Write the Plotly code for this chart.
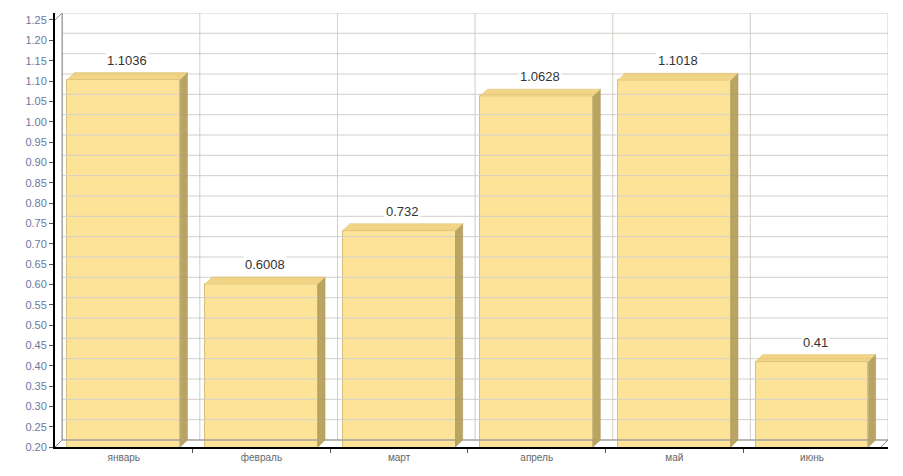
import plotly.graph_objects as go

months = ["январь", "февраль", "март", "апрель", "май", "июнь"]
values = [1.1036, 0.6008, 0.732, 1.0628, 1.1018, 0.41]
value_labels = ["1.1036", "0.6008", "0.732", "1.0628", "1.1018", "0.41"]
y_ticks = [round(0.20 + 0.05 * k, 2) for k in range(22)]

Y0, Y1 = 0.20, 1.25
DX, DY = 0.052, 0.0172  # 3d depth in data units
BAR_W = 0.82

FRONT = "#fde397"
TOP = "#f2d487"
SIDE = "#b9a463"
EDGE = "#d8bf7a"
GRID = "#dcdcdc"


def grid_lines():
    gx, gy = [], []
    for t in y_ticks:
        gx += [-0.5 + DX, 5.5 + DX, None]
        gy += [t + DY, t + DY, None]
    for b in range(7):
        gx += [b - 0.5 + DX, b - 0.5 + DX, None]
        gy += [Y0 + DY, Y1 + DY, None]
    return gx, gy


fig = go.Figure()

gx, gy = grid_lines()
fig.add_trace(go.Scatter(x=gx, y=gy, mode="lines", line=dict(color=GRID, width=1),
                         hoverinfo="skip", showlegend=False))

# left wall and floor edges
wx = [-0.5, -0.5 + DX, None, -0.5, -0.5 + DX, None, -0.5 + DX, -0.5 + DX, None,
      -0.5 + DX, 5.5 + DX, None, 5.5, 5.5 + DX, None]
wy = [Y0, Y0 + DY, None, Y1, Y1 + DY, None, Y0 + DY, Y1 + DY, None,
      Y0 + DY, Y0 + DY, None, Y0, Y0 + DY, None]
fig.add_trace(go.Scatter(x=wx, y=wy, mode="lines", line=dict(color="#8a8a8a", width=1),
                         hoverinfo="skip", showlegend=False))

# front faces
fig.add_trace(go.Bar(x=list(range(len(months))), y=values, width=BAR_W,
                     marker=dict(color=FRONT, line=dict(color=EDGE, width=1)),
                     showlegend=False))

# side and top faces
for i, v in enumerate(values):
    l, r = i - BAR_W / 2, i + BAR_W / 2
    fig.add_trace(go.Scatter(x=[r, r + DX, r + DX, r, r], y=[Y0, Y0 + DY, v + DY, v, Y0],
                             fill="toself", fillcolor=SIDE, mode="lines",
                             line=dict(color="#a89558", width=0.5),
                             hoverinfo="skip", showlegend=False))
    fig.add_trace(go.Scatter(x=[l, l + DX, r + DX, r, l], y=[v, v + DY, v + DY, v, v],
                             fill="toself", fillcolor=TOP, mode="lines",
                             line=dict(color=EDGE, width=0.5),
                             hoverinfo="skip", showlegend=False))
    fig.add_annotation(x=i + DX / 2, y=v + DY, text=value_labels[i], showarrow=False,
                       yanchor="bottom", yshift=3, bgcolor="white",
                       font=dict(family="Liberation Sans, Arial", size=13, color="#333333"))

# faint grid showing through the bars
gx, gy = grid_lines()
fig.add_trace(go.Scatter(x=gx, y=gy, mode="lines",
                         line=dict(color="rgba(150,130,80,0.12)", width=1),
                         hoverinfo="skip", showlegend=False))

# page body has an 8px margin, so the figure is a bit smaller than the window
fig.update_layout(
    width=895, height=468,
    margin=dict(l=47, r=15, t=5, b=29),
    paper_bgcolor="white", plot_bgcolor="white",
    bargap=0,
)
fig.update_xaxes(
    range=[-0.5, 5.5 + DX], tickvals=list(range(6)), ticktext=months,
    showgrid=False, zeroline=False, ticks="", automargin=False,
    showline=True, linecolor="black", linewidth=2,
    tickfont=dict(family="Liberation Sans, Arial", size=10, color="#666666"),
    minor=dict(tickvals=[b + 0.5 for b in range(5)], ticks="outside", ticklen=4, tickcolor="#555555"),
)
fig.update_yaxes(
    range=[Y0, Y1 + DY], tickvals=y_ticks, ticktext=[f"{t:.2f}" for t in y_ticks],
    showgrid=False, zeroline=False, ticks="outside", ticklen=4, tickcolor="#555555",
    automargin=False,
    showline=True, linecolor="black", linewidth=2,
    tickfont=dict(family="Liberation Sans, Arial", size=11, color="#6a78a0"),
)

fig.write_html("out.html")
